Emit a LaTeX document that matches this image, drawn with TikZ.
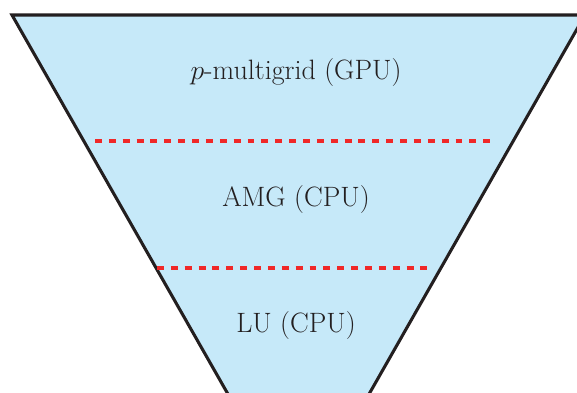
\documentclass[tikz,border=0pt]{standalone}
\usepackage{tikz}
\definecolor{funnelfill}{RGB}{198,233,249}
\definecolor{funneledge}{RGB}{35,31,32}
\definecolor{splitred}{RGB}{240,40,40}
\tikzset{
  funnel/.style={fill=funnelfill, draw=funneledge, line width=2.3pt, line join=miter},
  splitline/.style={draw=splitred, line width=2.4pt, dash pattern=on 5.2pt off 5.2pt},
  levellabel/.style={font=\fontsize{21}{25}\selectfont, text=funneledge, inner sep=0pt}
}
\begin{document}
\begin{tikzpicture}[x=0.75pt,y=-0.75pt]
  \useasboundingbox (0,0) rectangle (577,392);
  \clip (0,0) rectangle (577,392);
  % funnel body (extends past the page at right and bottom)
  \coordinate (tl) at (12,15);
  \coordinate (tr) at (585,15);
  \coordinate (br) at (360,410);
  \coordinate (bl) at (237,410);
  \path[funnel] (tl) -- (tr) -- (br) -- (bl) -- cycle;
  % level separators
  \coordinate (s1l) at (95,141);
  \coordinate (s1r) at (497,141);
  \coordinate (s2l) at (157,268);
  \coordinate (s2r) at (434,268);
  \draw[splitline] (s1l) -- (s1r);
  \draw[splitline] (s2l) -- (s2r);
  % level labels
  \node[levellabel] (pmg) at (296,73) {$p$-multigrid (GPU)};
  \node[levellabel] (amg) at (296,200) {AMG (CPU)};
  \node[levellabel] (lu) at (296,326) {LU (CPU)};
\end{tikzpicture}
\end{document}
